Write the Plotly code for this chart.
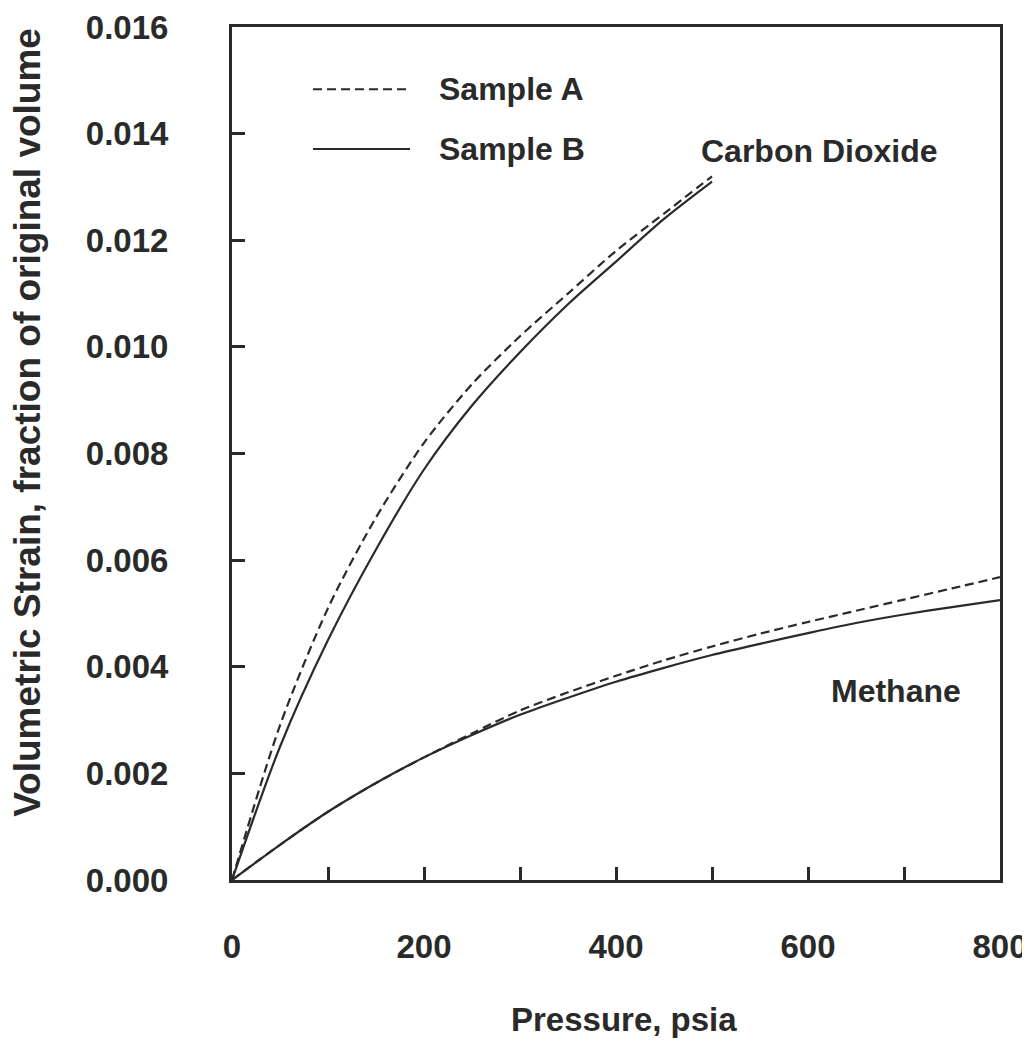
import plotly.graph_objects as go

# ---------------- data ----------------
co2_pressure = [0, 50, 100, 150, 200, 250, 300, 350, 400, 450, 500]
co2_sample_a = [0.0, 0.0029, 0.0051, 0.0068, 0.0082, 0.0093, 0.0102, 0.0110, 0.0118, 0.0125, 0.0132]
co2_sample_b = [0.0, 0.0025, 0.0045, 0.0062, 0.0077, 0.0089, 0.0099, 0.0108, 0.0116, 0.0124, 0.0131]

ch4_pressure = [0, 50, 100, 150, 200, 250, 300, 350, 400, 450, 500, 550, 600, 650, 700, 750, 800]
ch4_sample_a = [0.0, 0.00066, 0.00128, 0.00182, 0.0023, 0.00275, 0.00318, 0.00352, 0.00383,
                0.00412, 0.00438, 0.00462, 0.00484, 0.00505, 0.00526, 0.00547, 0.00568]
ch4_sample_b = [0.0, 0.00066, 0.00128, 0.00182, 0.0023, 0.00272, 0.0031, 0.00342, 0.00372,
                0.00398, 0.00422, 0.00443, 0.00463, 0.00482, 0.00498, 0.00512, 0.00525]

x_ticks = [0, 200, 400, 600, 800]
y_ticks = [0.000, 0.002, 0.004, 0.006, 0.008, 0.010, 0.012, 0.014, 0.016]
legend_names = ["Sample A", "Sample B"]
curve_labels = {"co2": ("Carbon Dioxide", 611, 0.01367), "ch4": ("Methane", 692, 0.00354)}
x_title = "Pressure, psia"
y_title = "Volumetric Strain, fraction of original volume"

# ---------------- style ----------------
INK = "#2a2a2a"
FONT = "Liberation Sans, Arial, sans-serif"
dash_a = "9px,5px"

fig = go.Figure()
for x, y, dash in [(co2_pressure, co2_sample_a, dash_a), (co2_pressure, co2_sample_b, "solid"),
                   (ch4_pressure, ch4_sample_a, dash_a), (ch4_pressure, ch4_sample_b, "solid")]:
    fig.add_trace(go.Scatter(x=x, y=y, mode="lines",
                             line=dict(color=INK, width=2.2, dash=dash, shape="spline", smoothing=0.8),
                             showlegend=False, hoverinfo="skip"))

# legend keys drawn in paper coordinates
for i, name in enumerate(legend_names):
    yp = 0.927 - i * 0.07
    fig.add_shape(type="line", xref="paper", yref="paper", x0=0.1055, x1=0.2318, y0=yp, y1=yp,
                  line=dict(color=INK, width=2, dash=dash_a if i == 0 else "solid"))
    fig.add_annotation(xref="paper", yref="paper", x=0.267, y=yp, text="<b>%s</b>" % name, showarrow=False,
                       xanchor="left", yanchor="middle", font=dict(family=FONT, size=32, color=INK))

for key, (txt, px, sy) in curve_labels.items():
    fig.add_annotation(x=px, y=sy, text="<b>%s</b>" % txt, showarrow=False, xanchor="center", yanchor="middle",
                       font=dict(family=FONT, size=32, color=INK))

# axis titles
fig.add_annotation(xref="paper", yref="paper", x=0.5104, y=-0.164, text="<b>%s</b>" % x_title,
                   showarrow=False, xanchor="center", yanchor="middle",
                   font=dict(family=FONT, size=33, color=INK))
fig.add_annotation(xref="paper", yref="paper", x=-0.2656, y=0.536, text="<b>%s</b>" % y_title,
                   textangle=-90, showarrow=False, xanchor="center", yanchor="middle",
                   font=dict(family=FONT, size=37, color=INK))

fig.update_layout(
    width=1022, height=1040,
    margin=dict(l=224, r=30, t=19, b=168, autoexpand=False),
    paper_bgcolor="white", plot_bgcolor="white",
    font=dict(family=FONT, color=INK),
    showlegend=False,
)
fig.update_xaxes(
    range=[0, 800], tickvals=x_ticks, ticktext=["<b>%d</b>" % v for v in x_ticks],
    ticks="inside", ticklen=13, tickwidth=3, tickcolor=INK,
    minor=dict(dtick=100, tick0=0, ticks="inside", ticklen=13, tickwidth=3, tickcolor=INK),
    showline=True, linewidth=3, linecolor=INK, mirror=True, showgrid=False, zeroline=False,
    tickfont=dict(family=FONT, size=33, color=INK), ticklabelstandoff=35, automargin=False,
    ticklabeloverflow="allow",
)
fig.update_yaxes(
    range=[0, 0.016], tickvals=y_ticks, ticktext=["<b>%.3f</b>" % v for v in y_ticks],
    ticks="inside", ticklen=13, tickwidth=3, tickcolor=INK,
    showline=True, linewidth=3, linecolor=INK, mirror=True, showgrid=False, zeroline=False,
    tickfont=dict(family=FONT, size=33, color=INK), ticklabelstandoff=54, automargin=False,
    ticklabeloverflow="allow",
)

fig.write_html("out.html")
